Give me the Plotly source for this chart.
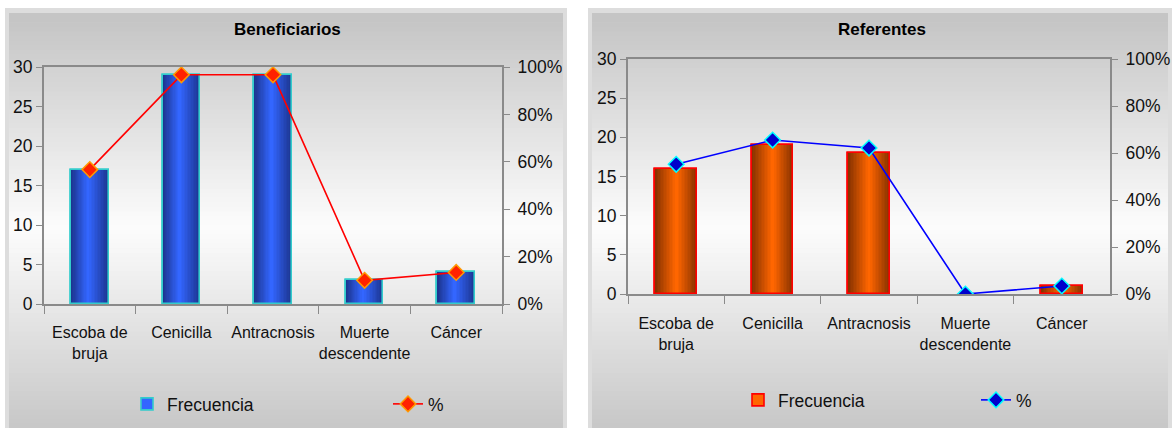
import plotly.graph_objects as go

# ---------------- data ----------------
categories = ["Escoba de<br>bruja", "Cenicilla", "Antracnosis", "Muerte<br>descendente", "Cáncer"]
benef_freq = [17, 29, 29, 3, 4]
benef_pct = [0.567, 0.967, 0.967, 0.10, 0.133]
ref_freq = [16, 19, 18, 0, 1]
ref_pct = [0.552, 0.655, 0.621, 0.0, 0.034]
titles = ["Beneficiarios", "Referentes"]
legend_names = ["Frecuencia", "%"]

W, H = 1176, 428
FONT = "Liberation Sans, Arial, sans-serif"


def px(x):
    return x / W


def py(y):
    return 1 - y / H


def hexrgb(h):
    h = h.lstrip("#")
    return tuple(int(h[i:i + 2], 16) for i in (0, 2, 4))


def lerp(c1, c2, t):
    a, b = hexrgb(c1), hexrgb(c2)
    return "rgb(%d,%d,%d)" % tuple(round(a[i] + (b[i] - a[i]) * t) for i in range(3))


fig = go.Figure()

# ---------------- panel backgrounds (gradient) ----------------
shapes = []


def panel(x0, x1, y0, y1):
    shapes.append(dict(type="rect", xref="paper", yref="paper", x0=px(x0), x1=px(x1),
                       y0=py(H), y1=py(y0), fillcolor="#dddddd", line=dict(width=0), layer="below"))
    ix0, ix1, iy0 = x0 + 4, x1 - 4, y0 + 5
    n = 90
    step = (H - iy0) / n
    for i in range(n):
        ya = iy0 + i * step
        yc = ya + step / 2
        d = min(abs(yc - 228) / 210.0, 1.0)
        v = 253 - d * 56
        shapes.append(dict(type="rect", xref="paper", yref="paper", x0=px(ix0), x1=px(ix1),
                           y0=py(ya + step + 0.6), y1=py(ya),
                           fillcolor="rgb(%d,%d,%d)" % (v, v, v), line=dict(width=0), layer="below"))


panel(5, 567, 8, H)
panel(588, 1172, 8, H)


# ---------------- bars with gradient ----------------
def add_bars(freq, xa, ya, width, peak, dark, bright, outline, legend, n=14):
    lw = [1.6 if v > 0 else 0 for v in freq]
    # legend trace (fully covered by gradient layers)
    fig.add_trace(go.Bar(x=categories, y=freq, xaxis=xa, yaxis=ya, width=width, offset=-width / 2,
                         marker=dict(color=bright, line=dict(color=outline, width=lw)),
                         name=legend_names[0], legend=legend, showlegend=True, hoverinfo="skip"))
    for k in range(n):
        f = k / n
        left = -width / 2 + peak * width * f
        right = width / 2 - (1 - peak) * width * f
        col = lerp(dark, bright, k / (n - 1))
        fig.add_trace(go.Bar(x=categories, y=freq, xaxis=xa, yaxis=ya, width=right - left, offset=left,
                             marker=dict(color=col, line=dict(width=0)), showlegend=False,
                             hoverinfo="skip"))
    fig.add_trace(go.Bar(x=categories, y=freq, xaxis=xa, yaxis=ya, width=width, offset=-width / 2,
                         marker=dict(color="rgba(0,0,0,0)", line=dict(color=outline, width=lw)),
                         showlegend=False, name=legend_names[0]))


add_bars(benef_freq, "x", "y", 0.41, 0.45, "#1c3590", "#3366ff", "#33cccc", "legend")
add_bars(ref_freq, "x2", "y3", 0.43, 0.5, "#8a3300", "#ff6600", "#ff0000", "legend3")

# ---------------- lines ----------------
fig.add_trace(go.Scatter(x=categories, y=benef_pct, xaxis="x", yaxis="y2", mode="lines+markers",
                         line=dict(color="#ff0000", width=1.6),
                         marker=dict(symbol="diamond", size=12, color="#ff2200",
                                     line=dict(color="#ff9900", width=1.5)),
                         name=legend_names[1], legend="legend2"))
fig.add_trace(go.Scatter(x=categories, y=ref_pct, xaxis="x2", yaxis="y4", mode="lines+markers",
                         line=dict(color="#0000ff", width=1.6),
                         marker=dict(symbol="diamond", size=12, color="#0000cc",
                                     line=dict(color="#00ffff", width=1.5)),
                         name=legend_names[1], legend="legend4"))

# ---------------- axes ----------------
axis_line = "#8a8a8a"
tickfont = dict(family=FONT, size=17.5, color="#111111")
xfont = dict(family=FONT, size=16, color="#111111")


def xaxis(dom, anchor, standoff):
    return dict(domain=dom, anchor=anchor, type="category", tickson="boundaries", ticks="outside",
                ticklen=8, tickcolor=axis_line, tickwidth=1.2, showline=True, linecolor=axis_line,
                linewidth=2, mirror=True, showgrid=False, tickfont=xfont, ticklabelstandoff=standoff,
                tickangle=0, range=[-0.5, 4.5], fixedrange=True, automargin=False)


def yleft(dom, anchor):
    return dict(domain=dom, anchor=anchor, range=[0, 30], dtick=5, ticks="outside", ticklen=6,
                tickcolor=axis_line, tickwidth=1.2, showline=True, linecolor=axis_line, linewidth=2,
                showgrid=False, zeroline=False, tickfont=tickfont, fixedrange=True, automargin=False)


def yright(anchor, over):
    return dict(anchor=anchor, overlaying=over, side="right", range=[0, 1], dtick=0.2, tickformat=".0%",
                ticks="outside", ticklen=6, tickcolor=axis_line, tickwidth=1.2, showline=True,
                linecolor=axis_line, linewidth=2, showgrid=False, zeroline=False, tickfont=tickfont,
                ticklabelstandoff=4, fixedrange=True, automargin=False)


def legend(x, y):
    return dict(x=px(x), y=py(y), xanchor="left", yanchor="middle", orientation="h",
                bgcolor="rgba(0,0,0,0)", font=dict(family=FONT, size=17.5, color="#111111"),
                borderwidth=0)


fig.update_layout(
    width=W, height=H, autosize=False,
    margin=dict(l=0, r=0, t=0, b=0, autoexpand=False),
    paper_bgcolor="white", plot_bgcolor="rgba(0,0,0,0)",
    barmode="overlay", bargap=0,
    showlegend=True,
    xaxis=xaxis([px(44), px(502)], "y", 13),
    yaxis=yleft([py(304), py(67)], "x"),
    yaxis2=yright("x", "y"),
    xaxis2=xaxis([px(628), px(1110)], "y3", 14),
    yaxis3=yleft([py(294), py(59)], "x2"),
    yaxis4=yright("x2", "y3"),
    legend=legend(127, 404),
    legend2=legend(388, 404),
    legend3=legend(738, 400),
    legend4=legend(976, 400),
    shapes=shapes,
    annotations=[
        dict(text="<b>%s</b>" % titles[0], x=px(287), y=py(30), xref="paper", yref="paper",
             xanchor="center", yanchor="middle",
             showarrow=False, font=dict(family=FONT, size=17, color="#000000")),
        dict(text="<b>%s</b>" % titles[1], x=px(882), y=py(29), xref="paper", yref="paper",
             xanchor="center", yanchor="middle",
             showarrow=False, font=dict(family=FONT, size=17, color="#000000")),
    ],
    hovermode=False,
)

fig.write_html("out.html")
